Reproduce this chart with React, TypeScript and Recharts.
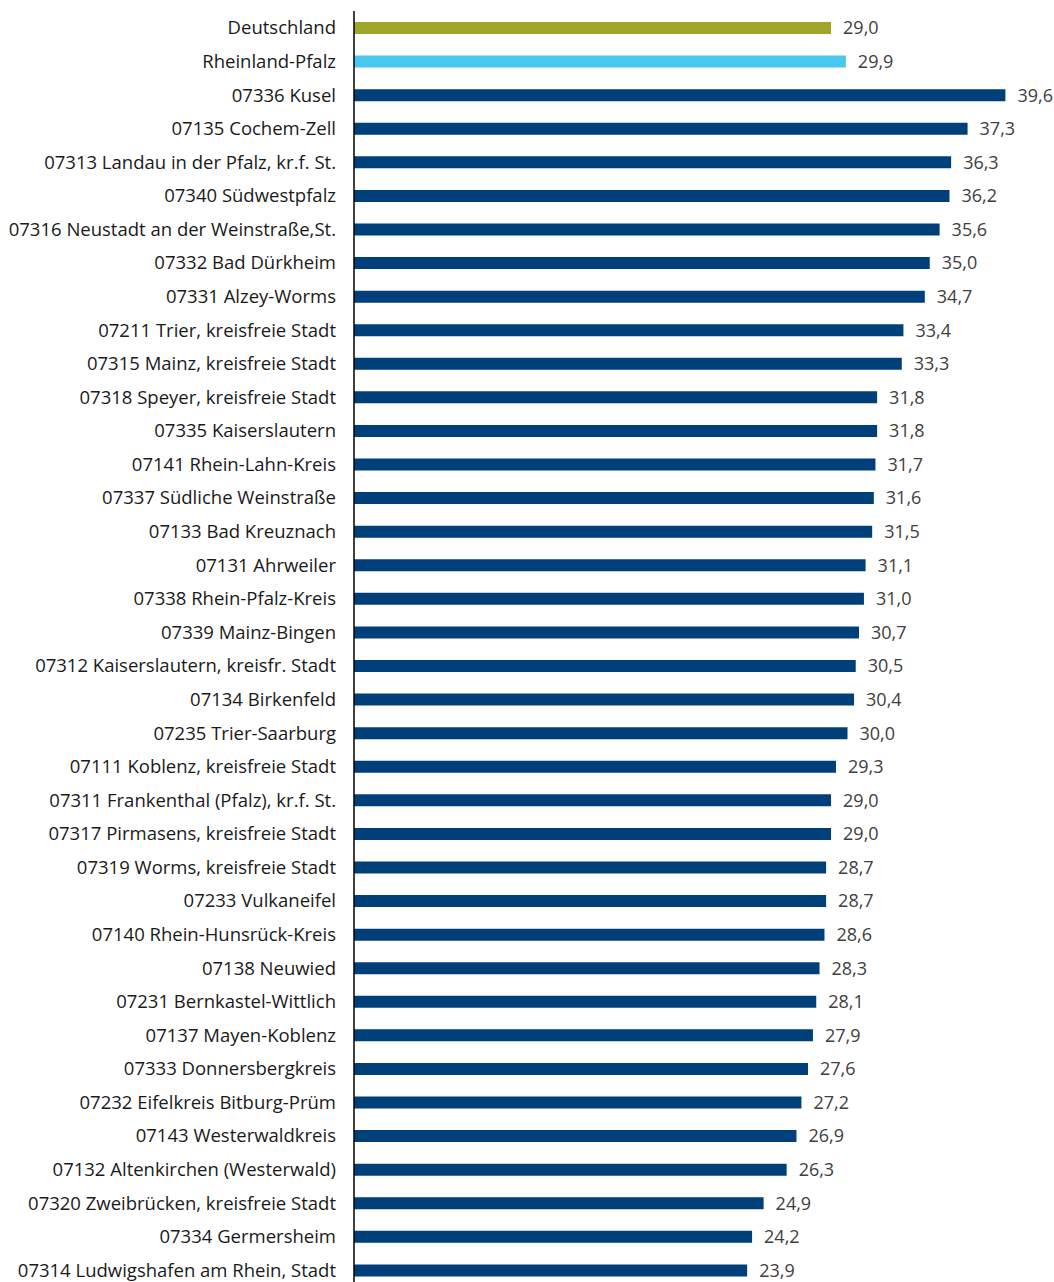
import React from "react";
import { BarChart, Bar, XAxis, YAxis, Cell, LabelList } from "recharts";

const categories = [
  "Deutschland",
  "Rheinland-Pfalz",
  "07336 Kusel",
  "07135 Cochem-Zell",
  "07313 Landau in der Pfalz, kr.f. St.",
  "07340 Südwestpfalz",
  "07316 Neustadt an der Weinstraße,St.",
  "07332 Bad Dürkheim",
  "07331 Alzey-Worms",
  "07211 Trier, kreisfreie Stadt",
  "07315 Mainz, kreisfreie Stadt",
  "07318 Speyer, kreisfreie Stadt",
  "07335 Kaiserslautern",
  "07141 Rhein-Lahn-Kreis",
  "07337 Südliche Weinstraße",
  "07133 Bad Kreuznach",
  "07131 Ahrweiler",
  "07338 Rhein-Pfalz-Kreis",
  "07339 Mainz-Bingen",
  "07312 Kaiserslautern, kreisfr. Stadt",
  "07134 Birkenfeld",
  "07235 Trier-Saarburg",
  "07111 Koblenz, kreisfreie Stadt",
  "07311 Frankenthal (Pfalz), kr.f. St.",
  "07317 Pirmasens, kreisfreie Stadt",
  "07319 Worms, kreisfreie Stadt",
  "07233 Vulkaneifel",
  "07140 Rhein-Hunsrück-Kreis",
  "07138 Neuwied",
  "07231 Bernkastel-Wittlich",
  "07137 Mayen-Koblenz",
  "07333 Donnersbergkreis",
  "07232 Eifelkreis Bitburg-Prüm",
  "07143 Westerwaldkreis",
  "07132 Altenkirchen (Westerwald)",
  "07320 Zweibrücken, kreisfreie Stadt",
  "07334 Germersheim",
  "07314 Ludwigshafen am Rhein, Stadt",
];

const values = [
  29.0, 29.9, 39.6, 37.3, 36.3, 36.2, 35.6, 35.0, 34.7, 33.4, 33.3, 31.8, 31.8,
  31.7, 31.6, 31.5, 31.1, 31.0, 30.7, 30.5, 30.4, 30.0, 29.3, 29.0, 29.0, 28.7,
  28.7, 28.6, 28.3, 28.1, 27.9, 27.6, 27.2, 26.9, 26.3, 24.9, 24.2, 23.9,
];

const COLOR_DE = "#A0A627";
const COLOR_RP = "#48C8F1";
const COLOR_KR = "#00407A";

const data = categories.map((name, i) => ({ name, value: values[i] }));

const colorFor = (name: string) =>
  name === "Deutschland" ? COLOR_DE : name === "Rheinland-Pfalz" ? COLOR_RP : COLOR_KR;

const FONT = "'Open Sans', 'Noto Sans', sans-serif";

export default function App() {
  return (
    <div
      style={{
        position: "fixed",
        left: 0,
        top: 0,
        width: 1054,
        height: 1282,
        overflow: "hidden",
        background: "#fff",
      }}
    >
      <BarChart
        width={1054}
        height={1287}
        data={data}
        layout="vertical"
        margin={{ top: 11, right: 42, bottom: 0, left: 0 }}
        barSize={12}
        style={{ overflow: "visible" }}
      >
        <XAxis type="number" domain={[0, 40]} hide />
        <YAxis
          type="category"
          dataKey="name"
          width={354}
          axisLine={{ stroke: "#000", strokeWidth: 1.5 }}
          tickLine={false}
          tickSize={0}
          tickMargin={18}
          interval={0}
          tick={{ fill: "#1a1a1a", fontSize: 18.5, fontFamily: FONT }}
        />
        <Bar dataKey="value" isAnimationActive={false}>
          {data.map((d) => (
            <Cell key={d.name} fill={colorFor(d.name)} />
          ))}
          <LabelList
            dataKey="value"
            position="right"
            offset={12}
            formatter={(v: number) => v.toFixed(1).replace(".", ",")}
            style={{ fill: "#404040", fontSize: 18, fontFamily: FONT }}
          />
        </Bar>
      </BarChart>
    </div>
  );
}
